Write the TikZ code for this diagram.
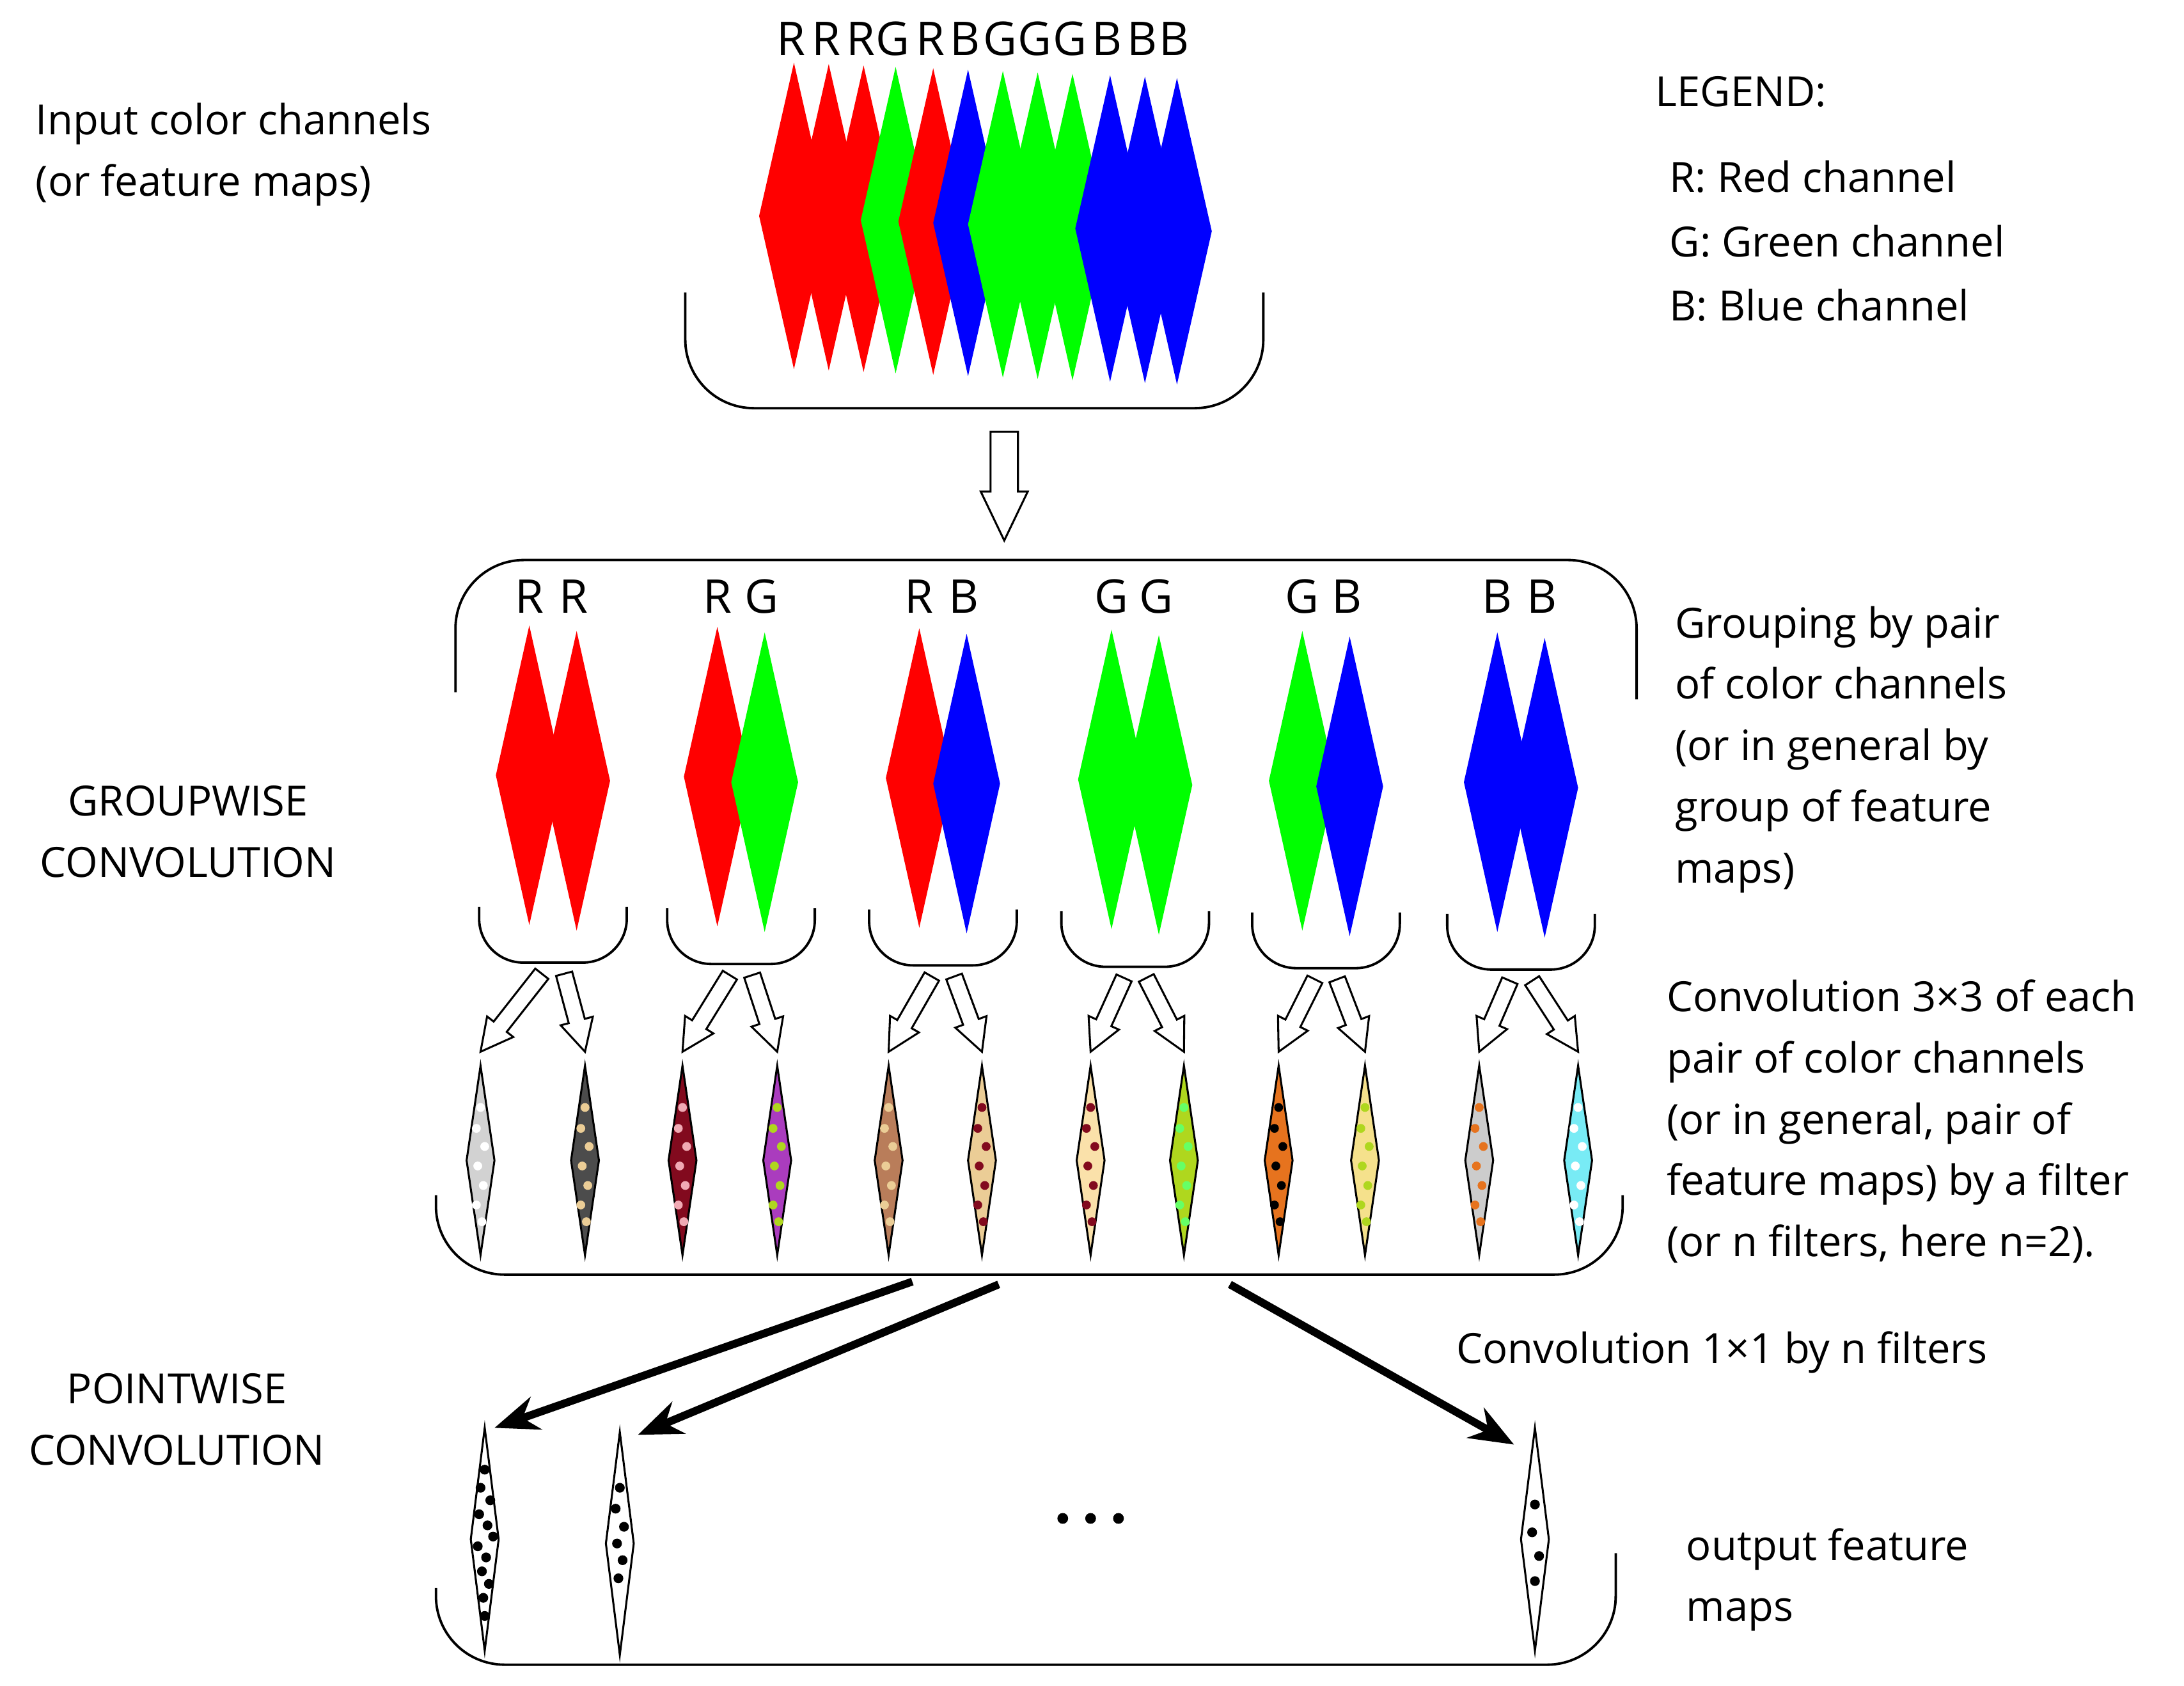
\documentclass[tikz,border=0pt]{standalone}
\usepackage{fontspec}
\setmainfont{Open Sans}
\usetikzlibrary{calc,arrows.meta}
\definecolor{chR}{RGB}{255,0,0}
\definecolor{chG}{RGB}{0,255,0}
\definecolor{chB}{RGB}{0,0,255}
\definecolor{dkred}{RGB}{130,10,30}
\definecolor{tan1}{RGB}{235,205,150}
\definecolor{brn}{RGB}{185,125,90}
\definecolor{purp}{RGB}{170,60,190}
\definecolor{ygrn}{RGB}{175,215,30}
\definecolor{orng}{RGB}{230,115,30}
\definecolor{ltyel}{RGB}{245,225,140}
\definecolor{beige}{RGB}{250,225,170}
\definecolor{cyn}{RGB}{120,235,245}
\definecolor{pinkish}{RGB}{240,170,180}

% big diamond: x, top, half width, height, colour
\newcommand{\chan}[5]{\fill[#5] (#1,#2) -- (#1+#3,#2+#4/2) -- (#1,#2+#4) -- (#1-#3,#2+#4/2) -- cycle;}
% small diamond with dots: name, x, top, fill, dot colour
\newcommand{\fmap}[5]{%
  \coordinate (#1) at (#2,#3);
  \draw[fill=#4] (#2,#3) -- (#2+10,#3+68) -- (#2,#3+136) -- (#2-10,#3+68) -- cycle;
  \foreach \dx/\dy in {0/30,-3/45,3/58,-2/72,2/86,-3/100,1/112}
    \fill[#5] (#2+\dx,#3+\dy) circle[radius=0.9pt];}
% hollow block arrow: from, to, shaft half, head half, head length
\newcommand{\hollow}[5]{%
  \coordinate (hb) at ($(#2)!#5!(#1)$);
  \draw[fill=white] ($(#1)!#3!90:(#2)$) -- ($(hb)!#3!90:(#2)$) -- ($(hb)!#4!90:(#2)$) -- (#2)
    -- ($(hb)!#4!-90:(#2)$) -- ($(hb)!#3!-90:(#2)$) -- ($(#1)!#3!-90:(#2)$) -- cycle;}

\tikzset{
  txt/.style={font=\fontsize{8.5}{12.5}\selectfont, inner sep=0pt, align=left},
  tray/.style={rounded corners=9pt, line width=0.5pt},
  bigarrow/.style={line width=1.6pt, -{Stealth[length=9pt,width=7pt]}}
}

\begin{document}
\begin{tikzpicture}[x=0.1mm,y=-0.1mm]
\useasboundingbox (0,0) rectangle (1568,1210);

% input channels
\foreach \x/\c [count=\i] in {570/chR,595/chR,620/chR,643/chG,670/chR,695/chB,720/chG,745/chG,770/chG,797/chB,822/chB,845/chB}{
  \chan{\x}{44+\i}{25}{220}{\c}
  \node[txt, font=\fontsize{9.5}{12}\selectfont] at (\x-2,28) {\ifcase\i\or R\or R\or R\or G\or R\or B\or G\or G\or G\or B\or B\or B\fi};
}
\draw[tray, rounded corners=14pt] (492,210) -- (492,293) -- (907,293) -- (907,210);
\coordinate (inbot) at (721,310);
\coordinate (grtop) at (721,388);
\hollow{inbot}{grtop}{2.8pt}{4.8pt}{10pt}

% groups
\draw[tray, rounded corners=14pt] (327,497) -- (327,402) -- (1175,402) -- (1175,502);
\foreach \c/\ca/\cb/\la/\lb [count=\i] in {397/chR/chR/R/R,532/chR/chG/R/G,677/chR/chB/R/B,815/chG/chG/G/G,952/chG/chB/G/B,1092/chB/chB/B/B}{
  \chan{\c-17}{448+\i}{24}{215}{\ca}
  \chan{\c+17}{452+\i}{24}{215}{\cb}
  \node[txt, font=\fontsize{9.5}{12}\selectfont] at (\c-17,428) {\la};
  \node[txt, font=\fontsize{9.5}{12}\selectfont] at (\c+15,428) {\lb};
  \draw[tray] (\c-53,650+\i) -- (\c-53,690+\i) -- (\c+53,690+\i) -- (\c+53,650+\i);
  \coordinate (ga\i) at (\c-8,698+\i);
  \coordinate (gb\i) at (\c+8,698+\i);
}

% filtered maps
\fmap{f1}{345}{765}{gray!35}{white}
\fmap{f2}{420}{765}{gray!140}{tan1}
\fmap{f3}{490}{765}{dkred}{pinkish}
\fmap{f4}{558}{765}{purp}{ygrn}
\fmap{f5}{638}{765}{brn}{tan1}
\fmap{f6}{705}{765}{tan1}{dkred}
\fmap{f7}{783}{765}{beige}{dkred}
\fmap{f8}{850}{765}{ygrn}{green!60!white}
\fmap{f9}{918}{765}{orng}{black}
\fmap{f10}{980}{765}{ltyel}{ygrn}
\fmap{f11}{1062}{765}{gray!40}{orng}
\fmap{f12}{1133}{765}{cyn}{white}
\foreach \i/\l/\r in {1/1/2,2/3/4,3/5/6,4/7/8,5/9/10,6/11/12}{
  \coordinate (la) at ($(f\l)+(0,-10)$);
  \coordinate (ra) at ($(f\r)+(0,-10)$);
  \hollow{ga\i}{la}{1.7pt}{3.4pt}{6.5pt}
  \hollow{gb\i}{ra}{1.7pt}{3.4pt}{6.5pt}
}
\draw[tray, rounded corners=14pt] (313,858) -- (313,915) -- (1165,915) -- (1165,858);

% pointwise
\coordinate (p1) at (655,920);
\coordinate (p2) at (717,922);
\coordinate (p3) at (883,922);
\coordinate (o1) at (355,1025);
\coordinate (o2) at (458,1030);
\coordinate (o3) at (1087,1037);
\draw[bigarrow] (p1) -- (o1);
\draw[bigarrow] (p2) -- (o2);
\draw[bigarrow] (p3) -- (o3);
\foreach \x/\t in {348/1025,445/1028,1102/1025}{
  \draw[fill=white] (\x,\t) -- (\x+10,\t+80) -- (\x,\t+160) -- (\x-10,\t+80) -- cycle;
}
\foreach \dx/\dy in {0/30,-3/43,4/52,-4/62,2/70,6/78,-5/85,1/93,-2/103,3/112,-1/122,0/135}
  \fill (348+\dx,1025+\dy) circle[radius=1pt];
\foreach \dx/\dy in {0/40,-3/55,3/68,-2/80,2/92,-1/105}
  \fill (445+\dx,1028+\dy) circle[radius=1pt];
\foreach \dx/\dy in {0/55,-2/75,3/92,0/110}
  \fill (1102+\dx,1025+\dy) circle[radius=1pt];
\foreach \x in {763,783,803} \fill (\x,1090) circle[radius=1.1pt];
\draw[tray, rounded corners=14pt] (313,1140) -- (313,1195) -- (1160,1195) -- (1160,1115);

% texts
\node[txt, anchor=west] at (25,111) {Input color channels\\(or feature maps)};
\node[txt, anchor=west] at (1188,66) {LEGEND:};
\node[txt, anchor=west] at (1198,127) {R: Red channel};
\node[txt, anchor=west] at (1198,173) {G: Green channel};
\node[txt, anchor=west] at (1198,219) {B: Blue channel};
\node[txt, align=center] at (135,597) {GROUPWISE\\CONVOLUTION};
\node[txt, anchor=west] at (1202,538) {Grouping by pair\\of color channels\\(or in general by\\group of feature\\maps)};
\node[txt, anchor=west] at (1196,805) {Convolution 3×3 of each\\pair of color channels\\(or in general, pair of\\feature maps) by a filter\\(or n filters, here n=2).};
\node[txt, anchor=west] at (1045,971) {Convolution 1×1 by n filters};
\node[txt, align=center] at (127,1019) {POINTWISE\\CONVOLUTION};
\node[txt, anchor=west] at (1210,1134) {output feature\\maps};
\end{tikzpicture}
\end{document}
